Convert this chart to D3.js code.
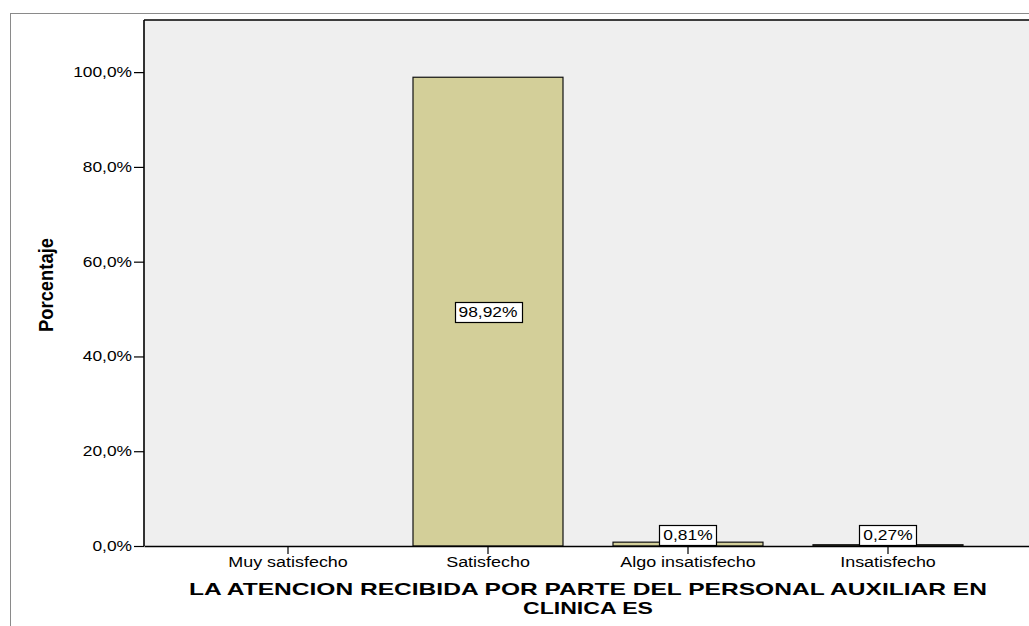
<!DOCTYPE html>
<html>
<head>
<meta charset="utf-8">
<script src="https://cdn.jsdelivr.net/npm/d3@7"></script>
<style>
  html, body { margin: 0; padding: 0; background: #ffffff; }
  svg { display: block; font-family: "Liberation Sans", Arial, sans-serif; }
</style>
</head>
<body>
<svg id="chart" width="1029" height="626"></svg>
<script>
// Categories and percentages
const categories = ["Muy satisfecho", "Satisfecho", "Algo insatisfecho", "Insatisfecho"];
const percentages = [0, 98.92, 0.81, 0.27];
const valueLabels = [null, "98,92%", "0,81%", "0,27%"];
const yTicks = [0, 20, 40, 60, 80, 100];
const yTickLabels = ["0,0%", "20,0%", "40,0%", "60,0%", "80,0%", "100,0%"];
const xTitleLines = ["LA ATENCION RECIBIDA POR PARTE DEL PERSONAL AUXILIAR EN", "CLINICA ES"];
const yTitle = "Porcentaje";

const svg = d3.select("#chart");
const plot = { left: 144, top: 20, right: 1032, bottom: 546 };

// widen glyphs horizontally by a factor
function stretch(sel, factor) {
  sel.each(function () {
    const w = this.getComputedTextLength();
    d3.select(this)
      .attr("textLength", w * factor)
      .attr("lengthAdjust", "spacingAndGlyphs");
  });
}

// outer frame
svg.append("rect")
  .attr("x", 10.5).attr("y", 13.5)
  .attr("width", 1040).attr("height", 640)
  .attr("fill", "none").attr("stroke", "#8a8a8a").attr("stroke-width", 1);

const x = d3.scaleBand()
  .domain(categories)
  .range([plot.left, plot.right])
  .paddingInner(0.25)
  .paddingOuter(0.345);

const y = d3.scaleLinear()
  .domain([0, 111])
  .range([plot.bottom, plot.top]);

// plot background
svg.append("rect")
  .attr("x", plot.left).attr("y", plot.top)
  .attr("width", plot.right - plot.left).attr("height", plot.bottom - plot.top)
  .attr("fill", "#efefef");

// top border of the plot area
svg.append("line")
  .attr("x1", plot.left).attr("x2", plot.right)
  .attr("y1", plot.top).attr("y2", plot.top)
  .attr("stroke", "#000").attr("stroke-width", 1.5);

// bars
svg.append("g").selectAll("rect")
  .data(categories)
  .join("rect")
  .attr("x", (d) => x(d))
  .attr("width", x.bandwidth())
  .attr("y", (d, i) => y(percentages[i]))
  .attr("height", (d, i) => y(0) - y(percentages[i]))
  .attr("fill", "#d3cf99")
  .attr("stroke", "#111")
  .attr("stroke-width", 1.2);

// y axis
const yAxis = d3.axisLeft(y)
  .tickValues(yTicks)
  .tickFormat((d, i) => yTickLabels[i])
  .tickSize(10)
  .tickPadding(2);
const gy = svg.append("g")
  .attr("transform", `translate(${plot.left},0)`)
  .call(yAxis);
gy.select(".domain").attr("d", `M0,${plot.top}V${plot.bottom}`).attr("stroke-width", 1.6);
gy.selectAll(".tick line").attr("stroke-width", 1.2);
gy.selectAll(".tick text")
  .attr("font-size", 14)
  .attr("fill", "#000")
  .attr("font-family", "Liberation Sans, Arial, sans-serif")
  .call(stretch, 1.24);

// x axis
const xAxis = d3.axisBottom(x).tickSize(8).tickPadding(3).tickSizeOuter(0);
const gx = svg.append("g")
  .attr("transform", `translate(0,${plot.bottom})`)
  .call(xAxis);
gx.select(".domain").attr("stroke-width", 1.6);
gx.selectAll(".tick line").attr("stroke-width", 1.2);
gx.selectAll(".tick text")
  .attr("font-size", 14)
  .attr("fill", "#000")
  .attr("font-family", "Liberation Sans, Arial, sans-serif")
  .call(stretch, 1.28);

// value labels in boxes
const labelG = svg.append("g");
categories.forEach((c, i) => {
  if (!valueLabels[i]) return;
  const cx = x(c) + x.bandwidth() / 2;
  const big = percentages[i] > 10;
  const cy = big ? y(percentages[i] / 2) : y(0) - 11;
  const g = labelG.append("g");
  const t = g.append("text")
    .attr("x", cx).attr("y", cy)
    .attr("text-anchor", "middle")
    .attr("dy", "0.36em")
    .attr("font-size", 14)
    .text(valueLabels[i])
    .call(stretch, 1.24);
  const w = +t.attr("textLength");
  g.insert("rect", "text")
    .attr("x", Math.round(cx - w / 2 - 4) + 0.5)
    .attr("y", Math.round(cy - 10) + 0.5)
    .attr("width", Math.round(w + 8))
    .attr("height", 20)
    .attr("fill", "#fff")
    .attr("stroke", "#000")
    .attr("stroke-width", 1.2);
});

// x axis title, two lines
const xc = (x(categories[0]) + x(categories[categories.length - 1]) + x.bandwidth()) / 2;
const lineWidths = [798, 130];
xTitleLines.forEach((line, i) => {
  svg.append("text")
    .attr("text-anchor", "middle")
    .attr("font-size", 17).attr("font-weight", "bold")
    .attr("x", xc).attr("y", 595 + i * 19)
    .attr("textLength", lineWidths[i]).attr("lengthAdjust", "spacingAndGlyphs")
    .text(line);
});

svg.append("text")
  .attr("transform", "translate(53,285) rotate(-90)")
  .attr("text-anchor", "middle")
  .attr("font-size", 21).attr("font-weight", "bold")
  .attr("textLength", 94).attr("lengthAdjust", "spacingAndGlyphs")
  .text(yTitle);
</script>
</body>
</html>
